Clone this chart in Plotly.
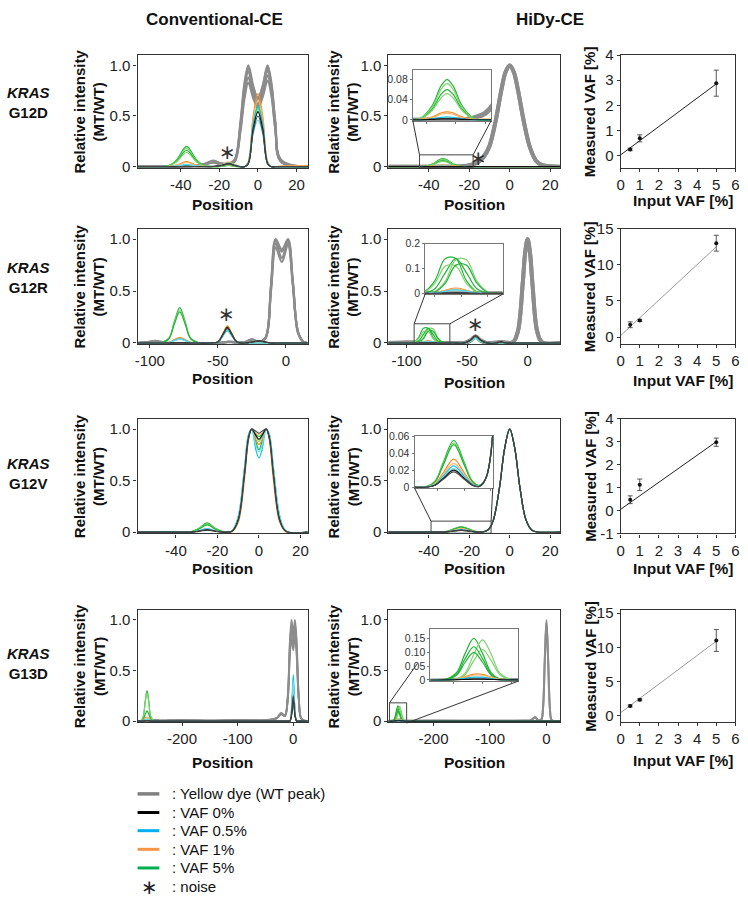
import plotly.graph_objects as go

W, H = 748, 900
FONT = "Liberation Sans, Arial, sans-serif"

# ---------------- data: Conventional-CE, KRAS G12D ----------------
CONV_G12D_POS = [-62, -46, -42, -37, -32, -28, -23, -19, -15, -12, -9, -7, -5, -2.5, 0, 2.5, 5, 7, 9, 12, 26]
CONV_G12D_GRAY = [
    [0, 0, 0, 0.005, 0.01, 0.025, 0.06, 0.03, 0.03, 0.07, 0.45, 0.82, 1.0, 0.8, 0.66, 0.8, 1.0, 0.82, 0.45, 0.07, 0],
    [0, 0, 0, 0.005, 0.01, 0.02, 0.05, 0.03, 0.025, 0.06, 0.41, 0.76, 0.94, 0.75, 0.62, 0.75, 0.95, 0.77, 0.41, 0.06, 0],
    [0, 0, 0, 0, 0.01, 0.02, 0.045, 0.025, 0.025, 0.06, 0.38, 0.71, 0.88, 0.71, 0.6, 0.72, 0.9, 0.73, 0.38, 0.05, 0],
    [0, 0, 0, 0, 0.01, 0.02, 0.05, 0.03, 0.03, 0.065, 0.43, 0.79, 0.97, 0.78, 0.68, 0.79, 0.98, 0.8, 0.43, 0.06, 0],
    [0, 0, 0, 0, 0.01, 0.02, 0.04, 0.02, 0.02, 0.05, 0.36, 0.67, 0.83, 0.68, 0.58, 0.69, 0.85, 0.7, 0.37, 0.05, 0],
]
CONV_G12D_GREEN = [
    [0, 0.013, 0.072, 0.2, 0.072, 0.013, 0, 0.005, 0.015, 0.005, 0, 0, 0.04, 0.42, 0.6, 0.42, 0.04, 0, 0, 0, 0],
    [0, 0.012, 0.065, 0.18, 0.065, 0.012, 0, 0.005, 0.015, 0.005, 0, 0, 0.04, 0.4, 0.57, 0.4, 0.04, 0, 0, 0, 0],
    [0, 0.011, 0.058, 0.16, 0.058, 0.011, 0, 0.005, 0.012, 0.004, 0, 0, 0.03, 0.38, 0.55, 0.38, 0.03, 0, 0, 0, 0],
    [0, 0.009, 0.05, 0.14, 0.05, 0.009, 0, 0.004, 0.012, 0.004, 0, 0, 0.03, 0.4, 0.58, 0.4, 0.03, 0, 0, 0, 0],
]
CONV_G12D_ORANGE = [
    [0, 0.003, 0.018, 0.05, 0.018, 0.004, 0.005, 0.02, 0.045, 0.02, 0, 0, 0.05, 0.5, 0.72, 0.5, 0.05, 0, 0, 0.005, 0.01],
    [0, 0.003, 0.015, 0.042, 0.015, 0.003, 0.004, 0.018, 0.04, 0.018, 0, 0, 0.04, 0.46, 0.66, 0.46, 0.04, 0, 0, 0.004, 0.008],
]
CONV_G12D_CYAN = [
    [0, 0.001, 0.007, 0.02, 0.007, 0.002, 0.003, 0.015, 0.035, 0.015, 0, 0, 0.04, 0.42, 0.6, 0.42, 0.04, 0, 0, 0, 0],
    [0, 0.001, 0.006, 0.018, 0.006, 0.002, 0.003, 0.012, 0.03, 0.012, 0, 0, 0.03, 0.32, 0.46, 0.32, 0.03, 0, 0, 0, 0],
]
CONV_G12D_BLACK = [
    [0, 0, 0.001, 0.004, 0.001, 0, 0.002, 0.012, 0.03, 0.012, 0, 0, 0.03, 0.37, 0.54, 0.37, 0.03, 0, 0, 0, 0],
    [0, 0, 0, 0.003, 0, 0, 0.002, 0.01, 0.028, 0.01, 0, 0, 0.03, 0.34, 0.5, 0.34, 0.03, 0, 0, 0, 0],
]

# ---------------- data: HiDy-CE, KRAS G12D ----------------
HIDY_G12D_POS = [-60, -46, -42, -38, -35, -33, -31, -28, -24, -20, -16, -13, -10, -7, -4, -2, 0, 2, 4, 7, 10, 13, 16, 25]
HIDY_G12D_GRAY = [
    [0, 0, 0, 0, 0, 0, 0, 0.001, 0.004, 0.012, 0.04, 0.09, 0.2, 0.445, 0.768, 0.936, 1.0, 0.936, 0.768, 0.445, 0.19, 0.06, 0.015, 0],
    [0, 0, 0, 0, 0, 0, 0, 0.001, 0.005, 0.015, 0.045, 0.1, 0.21, 0.45, 0.77, 0.935, 0.995, 0.93, 0.76, 0.44, 0.19, 0.06, 0.015, 0],
]
HIDY_G12D_GREEN = [
    [0, 0, 0.003, 0.029, 0.068, 0.08, 0.068, 0.029, 0.003, 0, 0, 0, 0, 0, 0, 0, 0, 0, 0, 0, 0, 0, 0, 0],
    [0, 0, 0.003, 0.026, 0.061, 0.072, 0.061, 0.026, 0.003, 0, 0, 0, 0, 0, 0, 0, 0, 0, 0, 0, 0, 0, 0, 0],
    [0, 0, 0.002, 0.022, 0.051, 0.06, 0.051, 0.022, 0.002, 0, 0, 0, 0, 0, 0, 0, 0, 0, 0, 0, 0, 0, 0, 0],
    [0, 0, 0.002, 0.019, 0.044, 0.052, 0.044, 0.019, 0.002, 0, 0, 0, 0, 0, 0, 0, 0, 0, 0, 0, 0, 0, 0, 0],
]
HIDY_G12D_ORANGE = [
    [0, 0, 0.001, 0.006, 0.014, 0.016, 0.014, 0.006, 0.001, 0.001, 0.002, 0.002, 0, 0, 0, 0, 0, 0, 0, 0, 0, 0, 0, 0],
    [0, 0, 0.001, 0.005, 0.011, 0.013, 0.011, 0.005, 0.001, 0.001, 0.001, 0.001, 0, 0, 0, 0, 0, 0, 0, 0, 0, 0, 0, 0],
]
HIDY_G12D_CYAN = [
    [0, 0, 0, 0.002, 0.005, 0.006, 0.005, 0.002, 0, 0, 0.001, 0.001, 0, 0, 0, 0, 0, 0, 0, 0, 0, 0, 0, 0],
]
HIDY_G12D_BLACK = [
    [0, 0, 0, 0.001, 0.002, 0.002, 0.002, 0.001, 0, 0, 0, 0, 0, 0, 0, 0, 0, 0, 0, 0, 0, 0, 0, 0],
]

# ---------------- data: Conventional-CE, KRAS G12R ----------------
CONV_G12R_POS = [-109, -100, -96, -92, -86, -82, -78, -74, -70, -64, -56, -50, -46, -43, -40, -36, -30, -25, -20, -15, -11, -7.5, -3, 1.5, 5, 9, 13, 16]
CONV_G12R_GRAY = [
    [0, 0.01, 0.02, 0.01, 0, 0, 0, 0, 0, 0, 0, 0, 0.005, 0.01, 0.01, 0.005, 0.01, 0.035, 0.01, 0.05, 0.55, 1.0, 0.88, 1.0, 0.6, 0.1, 0.01, 0],
    [0, 0.01, 0.018, 0.01, 0, 0, 0, 0, 0, 0, 0, 0, 0.005, 0.01, 0.01, 0.005, 0.01, 0.03, 0.01, 0.05, 0.52, 0.96, 0.82, 0.97, 0.58, 0.1, 0.01, 0],
    [0, 0.008, 0.015, 0.008, 0, 0, 0, 0, 0, 0, 0, 0, 0.004, 0.008, 0.008, 0.004, 0.008, 0.03, 0.01, 0.045, 0.5, 0.92, 0.78, 0.95, 0.57, 0.09, 0.01, 0],
    [0, 0.01, 0.02, 0.01, 0, 0, 0, 0, 0, 0, 0, 0, 0.005, 0.01, 0.01, 0.005, 0.01, 0.032, 0.01, 0.05, 0.54, 0.99, 0.9, 0.99, 0.6, 0.1, 0.01, 0],
]
CONV_G12R_GREEN = [
    [0, 0, 0, 0.001, 0.046, 0.204, 0.34, 0.204, 0.046, 0.001, 0, 0.011, 0.096, 0.16, 0.096, 0.011, 0, 0, 0, 0, 0, 0, 0, 0, 0, 0, 0, 0],
    [0, 0, 0, 0.001, 0.043, 0.192, 0.32, 0.192, 0.043, 0.001, 0, 0.01, 0.09, 0.15, 0.09, 0.01, 0, 0, 0, 0, 0, 0, 0, 0, 0, 0, 0, 0],
    [0, 0, 0, 0.001, 0.041, 0.18, 0.3, 0.18, 0.041, 0.001, 0, 0.009, 0.084, 0.14, 0.084, 0.009, 0, 0, 0, 0, 0, 0, 0, 0, 0, 0, 0, 0],
]
CONV_G12R_ORANGE = [
    [0, 0, 0, 0, 0.007, 0.033, 0.055, 0.033, 0.007, 0, 0, 0.011, 0.099, 0.165, 0.099, 0.011, 0, 0, 0, 0, 0, 0, 0, 0, 0, 0, 0, 0],
    [0, 0, 0, 0, 0.006, 0.027, 0.045, 0.027, 0.006, 0, 0, 0.01, 0.09, 0.15, 0.09, 0.01, 0, 0, 0, 0, 0, 0, 0, 0, 0, 0, 0, 0],
]
CONV_G12R_CYAN = [
    [0, 0, 0, 0, 0.005, 0.024, 0.04, 0.024, 0.005, 0, 0, 0.008, 0.072, 0.12, 0.072, 0.008, 0, 0, 0, 0, 0, 0, 0, 0, 0, 0, 0, 0],
    [0, 0, 0, 0, 0.005, 0.021, 0.035, 0.021, 0.005, 0, 0, 0.009, 0.078, 0.13, 0.078, 0.009, 0, 0, 0, 0, 0, 0, 0, 0, 0, 0, 0, 0],
]
CONV_G12R_BLACK = [
    [0, 0, 0, 0, 0, 0.002, 0.003, 0.002, 0, 0, 0, 0.01, 0.09, 0.15, 0.09, 0.01, 0, 0.01, 0.02, 0.01, 0, 0, 0, 0, 0, 0, 0, 0],
    [0, 0, 0, 0, 0, 0.001, 0.002, 0.001, 0, 0, 0, 0.009, 0.084, 0.14, 0.084, 0.009, 0, 0.008, 0.018, 0.008, 0, 0, 0, 0, 0, 0, 0, 0],
]

# ---------------- data: HiDy-CE, KRAS G12R ----------------
HIDY_G12R_POS = [-115, -100, -94, -90, -86, -82, -78, -74, -70, -62, -52, -47, -43, -39, -34, -26, -22, -18, -12, -8, -4, -2, 0, 2, 4, 8, 12, 27]
HIDY_G12R_GRAY = [
    [0, 0.005, 0.004, 0, 0, 0, 0, 0, 0, 0, 0.001, 0.027, 0.065, 0.027, 0.001, 0.003, 0.01, 0.003, 0.007, 0.11, 0.575, 0.87, 1.0, 0.87, 0.575, 0.11, 0.007, 0],
    [0, 0.004, 0.004, 0, 0, 0, 0, 0, 0, 0, 0.001, 0.025, 0.06, 0.025, 0.001, 0.003, 0.009, 0.003, 0.008, 0.115, 0.58, 0.875, 1.0, 0.865, 0.57, 0.105, 0.006, 0],
]
HIDY_G12R_GREEN = [
    [0, 0, 0.007, 0.052, 0.141, 0.141, 0.052, 0.007, 0, 0, 0.001, 0.02, 0.05, 0.02, 0.001, 0, 0, 0, 0, 0, 0, 0, 0, 0, 0, 0, 0, 0],
    [0, 0, 0, 0.007, 0.05, 0.136, 0.136, 0.05, 0.007, 0, 0.001, 0.018, 0.045, 0.018, 0.001, 0, 0, 0, 0, 0, 0, 0, 0, 0, 0, 0, 0, 0],
    [0, 0, 0.002, 0.019, 0.084, 0.14, 0.084, 0.019, 0.002, 0, 0.001, 0.02, 0.048, 0.02, 0.001, 0, 0, 0, 0, 0, 0, 0, 0, 0, 0, 0, 0, 0],
    [0, 0, 0.006, 0.041, 0.11, 0.11, 0.041, 0.006, 0, 0, 0.001, 0.018, 0.044, 0.018, 0.001, 0, 0, 0, 0, 0, 0, 0, 0, 0, 0, 0, 0, 0],
    [0, 0, 0, 0.006, 0.042, 0.114, 0.114, 0.042, 0.006, 0, 0.001, 0.02, 0.05, 0.02, 0.001, 0, 0, 0, 0, 0, 0, 0, 0, 0, 0, 0, 0, 0],
]
HIDY_G12R_ORANGE = [
    [0, 0, 0, 0.003, 0.013, 0.022, 0.013, 0.003, 0, 0, 0.001, 0.028, 0.068, 0.028, 0.001, 0, 0.005, 0, 0, 0, 0, 0, 0, 0, 0, 0, 0, 0],
    [0, 0, 0, 0.002, 0.011, 0.019, 0.011, 0.002, 0, 0, 0.001, 0.026, 0.064, 0.026, 0.001, 0, 0.004, 0, 0, 0, 0, 0, 0, 0, 0, 0, 0, 0],
]
HIDY_G12R_CYAN = [
    [0, 0, 0, 0.002, 0.009, 0.015, 0.009, 0.002, 0, 0, 0.001, 0.02, 0.05, 0.02, 0.001, 0, 0.004, 0, 0, 0, 0, 0, 0, 0, 0, 0, 0, 0],
    [0, 0, 0, 0.002, 0.008, 0.013, 0.008, 0.002, 0, 0, 0.001, 0.018, 0.045, 0.018, 0.001, 0, 0.003, 0, 0, 0, 0, 0, 0, 0, 0, 0, 0, 0],
]
HIDY_G12R_BLACK = [
    [0, 0, 0, 0, 0.001, 0.002, 0.001, 0, 0, 0, 0.001, 0.029, 0.07, 0.029, 0.001, 0, 0.01, 0, 0, 0, 0, 0, 0, 0, 0, 0, 0, 0],
    [0, 0, 0, 0, 0.001, 0.001, 0.001, 0, 0, 0, 0.001, 0.027, 0.066, 0.027, 0.001, 0, 0.008, 0, 0, 0, 0, 0, 0, 0, 0, 0, 0, 0],
]

# ---------------- data: Conventional-CE, KRAS G12V ----------------
CONV_G12V_POS = [-58.5, -40, -33, -29, -25, -21, -17, -13, -10, -7, -5, -3.5, -1.5, 0, 1.5, 3.5, 5, 7, 10, 13, 23.5]
CONV_G12V_GREEN = [
    [0, 0, 0.003, 0.037, 0.09, 0.037, 0.003, 0.01, 0.13, 0.58, 0.93, 1.0, 0.88, 0.8, 0.88, 1.0, 0.93, 0.58, 0.13, 0.01, 0],
    [0, 0, 0.002, 0.033, 0.08, 0.033, 0.002, 0.01, 0.12, 0.56, 0.92, 1.0, 0.93, 0.88, 0.93, 1.0, 0.92, 0.56, 0.12, 0.01, 0],
    [0, 0, 0.002, 0.029, 0.07, 0.029, 0.002, 0.01, 0.14, 0.6, 0.94, 1.0, 0.95, 0.93, 0.95, 1.0, 0.94, 0.6, 0.14, 0.01, 0],
]
CONV_G12V_ORANGE = [
    [0, -0.005, 0.001, 0.012, 0.03, 0.012, 0.001, 0.005, 0.1, 0.52, 0.9, 1.0, 0.9, 0.85, 0.9, 1.0, 0.9, 0.5, 0.1, 0.005, 0],
    [0, -0.004, 0.001, 0.01, 0.025, 0.01, 0.001, 0.005, 0.09, 0.5, 0.9, 1.0, 0.96, 0.95, 0.96, 1.0, 0.9, 0.52, 0.1, 0.005, 0],
]
CONV_G12V_CYAN = [
    [0, 0, 0.001, 0.014, 0.035, 0.014, 0.001, 0.012, 0.15, 0.62, 0.95, 1.0, 0.8, 0.72, 0.8, 1.0, 0.95, 0.62, 0.16, 0.015, 0],
    [0, 0, 0.001, 0.012, 0.03, 0.012, 0.001, 0.012, 0.15, 0.6, 0.94, 1.0, 0.84, 0.78, 0.84, 1.0, 0.95, 0.63, 0.16, 0.015, 0],
]
CONV_G12V_BLACK = [
    [0, 0, 0.001, 0.008, 0.02, 0.008, 0.001, 0.008, 0.12, 0.56, 0.92, 1.0, 0.94, 0.9, 0.94, 1.0, 0.92, 0.56, 0.12, 0.008, 0],
    [0, 0, 0.001, 0.01, 0.025, 0.01, 0.001, 0.008, 0.11, 0.55, 0.91, 1.0, 0.98, 0.96, 0.98, 1.0, 0.91, 0.55, 0.11, 0.008, 0],
]

# ---------------- data: HiDy-CE, KRAS G12V ----------------
HIDY_G12V_POS = [-60, -40, -34, -31, -28, -24, -20, -17, -14.5, -13, -11.5, -10, -8, -5, -2.5, 0, 2.5, 5, 8, 11, 14, 25]
HIDY_G12V_GREEN = [
    [0, 0, 0.001, 0.0074, 0.029, 0.055, 0.029, 0.0074, 0.002, 0.0044, 0.013, 0.037, 0.122, 0.44, 0.814, 1.0, 0.814, 0.44, 0.122, 0.019, 0.0015, 0],
    [0, 0, 0.001, 0.007, 0.027, 0.052, 0.027, 0.007, 0.002, 0.0044, 0.013, 0.038, 0.124, 0.445, 0.816, 1.0, 0.812, 0.436, 0.12, 0.018, 0.0015, 0],
    [0, 0, 0.001, 0.0068, 0.026, 0.05, 0.026, 0.0068, 0.002, 0.0043, 0.013, 0.036, 0.12, 0.436, 0.81, 1.0, 0.815, 0.442, 0.123, 0.019, 0.0015, 0],
]
HIDY_G12V_ORANGE = [
    [0, 0, 0.0006, 0.0045, 0.017, 0.033, 0.017, 0.0045, 0.0014, 0.0042, 0.013, 0.037, 0.122, 0.44, 0.814, 1.0, 0.814, 0.44, 0.122, 0.019, 0.0015, 0],
    [0, 0, 0.0005, 0.0038, 0.015, 0.028, 0.015, 0.0038, 0.0012, 0.0042, 0.014, 0.039, 0.126, 0.446, 0.818, 1.0, 0.81, 0.436, 0.12, 0.018, 0.0015, 0],
]
HIDY_G12V_CYAN = [
    [0, 0, 0.0004, 0.0034, 0.013, 0.025, 0.013, 0.0034, 0.001, 0.0042, 0.013, 0.037, 0.122, 0.44, 0.814, 1.0, 0.814, 0.44, 0.122, 0.019, 0.0015, 0],
    [0, 0, 0.0004, 0.003, 0.0115, 0.022, 0.0115, 0.003, 0.001, 0.0041, 0.013, 0.036, 0.12, 0.438, 0.812, 1.0, 0.816, 0.442, 0.124, 0.019, 0.0015, 0],
]
HIDY_G12V_BLACK = [
    [0, 0, 0.0003, 0.0027, 0.0104, 0.02, 0.0104, 0.0027, 0.0008, 0.0041, 0.013, 0.037, 0.122, 0.44, 0.814, 1.0, 0.814, 0.44, 0.122, 0.019, 0.0015, 0],
    [0, 0, 0.0003, 0.0024, 0.0094, 0.018, 0.0094, 0.0024, 0.0007, 0.004, 0.013, 0.037, 0.122, 0.44, 0.814, 1.0, 0.814, 0.44, 0.122, 0.019, 0.0015, 0],
]

# ---------------- data: Conventional-CE, KRAS G13D ----------------
CONV_G13D_POS = [-280, -274, -270, -266, -263, -260, -256, -250, -240, -200, -150, -100, -50, -30, -22, -15, -10, -6, -3, 0, 3, 6, 10, 15, 26]
CONV_G13D_GRAY = [
    [0, 0, 0, 0, 0.005, 0.005, 0.005, 0.01, 0.005, 0.01, 0.005, 0.01, 0.01, 0.03, 0.08, 0.06, 0.25, 0.8, 1.0, 0.85, 1.0, 0.8, 0.25, 0.02, 0],
    [0, 0, 0, 0, 0.005, 0.005, 0.005, 0.01, 0.005, 0.01, 0.005, 0.01, 0.01, 0.03, 0.07, 0.055, 0.23, 0.76, 0.95, 0.8, 0.96, 0.76, 0.23, 0.02, 0],
    [0, 0, 0, 0, 0.004, 0.004, 0.005, 0.008, 0.005, 0.008, 0.005, 0.008, 0.008, 0.025, 0.07, 0.05, 0.21, 0.7, 0.88, 0.75, 0.9, 0.7, 0.21, 0.02, 0],
    [0, 0, 0, 0, 0.004, 0.004, 0.004, 0.008, 0.004, 0.008, 0.004, 0.008, 0.008, 0.025, 0.065, 0.05, 0.2, 0.66, 0.82, 0.7, 0.84, 0.66, 0.2, 0.02, 0],
]
CONV_G13D_GREEN = [
    [0, 0.002, 0.041, 0.207, 0.3, 0.207, 0.041, 0, 0, 0, 0, 0, 0, 0, 0, 0, 0, 0, 0.1, 0.35, 0.1, 0, 0, 0, 0],
    [0, 0.002, 0.038, 0.193, 0.28, 0.193, 0.038, 0, 0, 0, 0, 0, 0, 0, 0, 0, 0, 0, 0.09, 0.3, 0.09, 0, 0, 0, 0],
    [0, 0.001, 0.014, 0.069, 0.1, 0.069, 0.014, 0, 0, 0, 0, 0, 0, 0, 0, 0, 0, 0, 0.07, 0.25, 0.07, 0, 0, 0, 0],
]
CONV_G13D_ORANGE = [
    [0, 0, 0.005, 0.028, 0.04, 0.028, 0.005, 0, 0, 0, 0, 0, 0, 0, 0, 0, 0, 0, 0.11, 0.38, 0.11, 0, 0, 0, 0],
    [0, 0, 0.005, 0.024, 0.035, 0.024, 0.005, 0, 0, 0, 0, 0, 0, 0, 0, 0, 0, 0, 0.09, 0.3, 0.09, 0, 0, 0, 0],
]
CONV_G13D_CYAN = [
    [0, 0, 0.003, 0.014, 0.02, 0.014, 0.003, 0, 0, 0, 0, 0, 0, 0, 0, 0, 0, 0, 0.13, 0.46, 0.13, 0, 0, 0, 0],
    [0, 0, 0.002, 0.012, 0.018, 0.012, 0.002, 0, 0, 0, 0, 0, 0, 0, 0, 0, 0, 0, 0.11, 0.4, 0.11, 0, 0, 0, 0],
]
CONV_G13D_BLACK = [
    [0, 0, 0, 0.003, 0.005, 0.003, 0, 0, 0, 0, 0, 0, 0, 0, 0, 0, 0, 0, 0.06, 0.22, 0.06, 0, 0, 0, 0],
    [0, 0, 0, 0.003, 0.004, 0.003, 0, 0, 0, 0, 0, 0, 0, 0, 0, 0, 0, 0, 0.07, 0.25, 0.07, 0, 0, 0, 0],
]

# ---------------- data: HiDy-CE, KRAS G13D ----------------
HIDY_G13D_POS = [-280, -273, -269, -266, -263, -260, -257, -254, -250, -240, -200, -100, -40, -28, -20, -14, -9, -6, -3, 0, 3, 6, 9, 14, 24.5]
HIDY_G13D_GRAY = [
    [0, 0.002, 0.004, 0.005, 0.005, 0.005, 0.004, 0.003, 0.003, 0.003, 0.005, 0.003, 0.005, 0.008, 0.04, 0.006, 0.015, 0.135, 0.6, 1.0, 0.6, 0.135, 0.011, 0, 0],
    [0, 0.002, 0.003, 0.004, 0.005, 0.004, 0.004, 0.003, 0.002, 0.003, 0.004, 0.003, 0.004, 0.007, 0.032, 0.005, 0.014, 0.13, 0.59, 0.98, 0.6, 0.14, 0.012, 0, 0],
]
HIDY_G13D_GREEN = [
    [0, 0.001, 0.026, 0.096, 0.15, 0.096, 0.026, 0.003, 0, 0, 0, 0, 0, 0, 0, 0, 0, 0, 0, 0, 0, 0, 0, 0, 0],
    [0, 0, 0.003, 0.025, 0.093, 0.145, 0.093, 0.025, 0.001, 0, 0, 0, 0, 0, 0, 0, 0, 0, 0, 0, 0, 0, 0, 0, 0],
    [0, 0.001, 0.02, 0.077, 0.12, 0.077, 0.02, 0.002, 0, 0, 0, 0, 0, 0, 0, 0, 0, 0, 0, 0, 0, 0, 0, 0, 0],
    [0, 0, 0.002, 0.019, 0.07, 0.11, 0.07, 0.019, 0.001, 0, 0, 0, 0, 0, 0, 0, 0, 0, 0, 0, 0, 0, 0, 0, 0],
    [0, 0.001, 0.017, 0.064, 0.1, 0.064, 0.017, 0.002, 0, 0, 0, 0, 0, 0, 0, 0, 0, 0, 0, 0, 0, 0, 0, 0, 0],
]
HIDY_G13D_ORANGE = [
    [0, 0, 0.004, 0.012, 0.021, 0.02, 0.01, 0.002, 0, 0, 0, 0, 0, 0, 0, 0, 0, 0, 0, 0, 0, 0, 0, 0, 0],
    [0, 0, 0.003, 0.01, 0.017, 0.017, 0.009, 0.002, 0, 0, 0, 0, 0, 0, 0, 0, 0, 0, 0, 0, 0, 0, 0, 0, 0],
]
HIDY_G13D_CYAN = [
    [0, 0, 0.002, 0.006, 0.01, 0.01, 0.005, 0.001, 0, 0, 0, 0, 0, 0, 0, 0, 0, 0, 0, 0, 0, 0, 0, 0, 0],
]
HIDY_G13D_BLACK = [
    [0, 0, 0.001, 0.002, 0.003, 0.003, 0.002, 0.001, 0, 0, 0, 0, 0, 0, 0, 0, 0, 0, 0, 0, 0, 0, 0, 0, 0],
]

# ---------------- data: measured vs input VAF ----------------
VAF_INPUT = [0.5, 1, 5]
FIT_X = [0, 5]
VAF_G12D_MEAN = [0.24, 0.68, 2.88]
VAF_G12D_SD = [0.05, 0.14, 0.52]
FIT_G12D = [0.02, 2.85]
VAF_G12R_MEAN = [1.7, 2.3, 13.0]
VAF_G12R_SD = [0.4, 0.15, 1.1]
FIT_G12R = [0.2, 12.5]
VAF_G12V_MEAN = [0.47, 1.12, 2.98]
VAF_G12V_SD = [0.17, 0.25, 0.18]
FIT_G12V = [0.05, 3.0]
VAF_G13D_MEAN = [1.4, 2.3, 11.0]
VAF_G13D_SD = [0.15, 0.15, 1.6]
FIT_G13D = [0.4, 10.9]

ROW_NAMES = ["G12D", "G12R", "G12V", "G13D"]
LEGEND_LABELS = [": Yellow dye (WT peak)", ": VAF 0%", ": VAF 0.5%", ": VAF 1%", ": VAF 5%"]

# ---------------- styling ----------------
C_GRAY = "rgb(140,140,140)"
C_GREEN = ["rgb(35,180,55)", "rgb(125,212,110)"]
C_ORANGE = ["rgb(245,140,35)", "rgb(250,182,115)"]
C_CYAN = ["rgb(20,195,228)", "rgb(110,220,240)"]
C_BLACK = ["rgb(15,15,15)", "rgb(70,70,70)"]
LEGEND_COLORS = ["rgb(128,128,128)", "rgb(0,0,0)", "rgb(0,176,240)", "rgb(247,150,70)", "rgb(0,176,80)"]
AX = "#333333"
TICK_SIZE = 15

COL_CONV = (135, 307)
COL_HIDY = (388.5, 562.3)
COL_VAF = (623.3, 739.3)
ROWS = [(47, 162), (224, 341.7), (417.7, 534.5), (612.4, 727)]
YR_CURVE = [-0.012, 1.1]


def xdom(c):
    return [c[0] / W, c[1] / W]


def ydom(r):
    return [1 - r[1] / H, 1 - r[0] / H]


def px_to_paper(px, py):
    return px / W, 1 - py / H


def data_to_px(xv, yv, xr, yr, col, row):
    px = col[0] + (xv - xr[0]) / (xr[1] - xr[0]) * (col[1] - col[0])
    py = row[1] - (yv - yr[0]) / (yr[1] - yr[0]) * (row[1] - row[0])
    return px, py


fig = go.Figure()
layout = {}


def base_axis(**kw):
    d = dict(showline=True, linecolor=AX, linewidth=1.2, mirror=True, ticks="outside",
             ticklen=3, tickwidth=1.1, tickcolor=AX, showgrid=False, zeroline=False,
             tickfont=dict(family=FONT, size=TICK_SIZE, color="#222"), fixedrange=True)
    d.update(kw)
    return d


def add_axes(n, col, row, xr, yr, xtv, xtt, ytv, ytt, small=False):
    sfx = "" if n == 1 else str(n)
    xa = base_axis(domain=xdom(col), range=xr, anchor="y" + sfx, tickvals=xtv, ticktext=xtt)
    ya = base_axis(domain=ydom(row), range=yr, anchor="x" + sfx, tickvals=ytv, ticktext=ytt)
    if small:
        for a in (xa, ya):
            a.update(linecolor="#777", tickcolor="#777", linewidth=1, ticklen=2,
                     tickfont=dict(family=FONT, size=10.5, color="#333"))
        xa.update(showticklabels=False)
    layout["xaxis" + sfx] = xa
    layout["yaxis" + sfx] = ya


def add_curves(n, pos, gray, green, orange, cyan, black, gw):
    sfx = "" if n == 1 else str(n)
    groups = [(gray, [C_GRAY, C_GRAY], gw), (green, C_GREEN, 1.2), (orange, C_ORANGE, 1.2),
              (cyan, C_CYAN, 1.2), (black, C_BLACK, 1.2)]
    for reps, cols, w in groups:
        for i, ys in enumerate(reps):
            fig.add_trace(go.Scatter(x=pos, y=ys, mode="lines", xaxis="x" + sfx, yaxis="y" + sfx,
                                     line=dict(color=cols[i % 2], width=w, shape="spline", smoothing=1.0),
                                     hoverinfo="skip", showlegend=False))


def add_vaf(n, mean, sd, fit, fitcolor):
    sfx = str(n)
    fig.add_trace(go.Scatter(x=FIT_X, y=fit, mode="lines", xaxis="x" + sfx, yaxis="y" + sfx,
                             line=dict(color=fitcolor, width=1), hoverinfo="skip", showlegend=False))
    fig.add_trace(go.Scatter(x=VAF_INPUT, y=mean, mode="markers", xaxis="x" + sfx, yaxis="y" + sfx,
                             marker=dict(color="#111", size=4),
                             error_y=dict(type="data", array=sd, color="#444", thickness=0.9, width=2.5),
                             hoverinfo="skip", showlegend=False))


YT = [0, 0.5, 1.0]
YTT = ["0", "0.5", "1.0"]
VX = [0, 1, 2, 3, 4, 5, 6]
VXT = [str(v) for v in VX]

panels = [
    (1, COL_CONV, 0, [-62.4, 25.8], [-40, -20, 0, 20], CONV_G12D_POS, CONV_G12D_GRAY, CONV_G12D_GREEN, CONV_G12D_ORANGE, CONV_G12D_CYAN, CONV_G12D_BLACK, 2.2),
    (2, COL_HIDY, 0, [-60, 25], [-40, -20, 0, 20], HIDY_G12D_POS, HIDY_G12D_GRAY, HIDY_G12D_GREEN, HIDY_G12D_ORANGE, HIDY_G12D_CYAN, HIDY_G12D_BLACK, 4),
    (4, COL_CONV, 1, [-109, 16], [-100, -50, 0], CONV_G12R_POS, CONV_G12R_GRAY, CONV_G12R_GREEN, CONV_G12R_ORANGE, CONV_G12R_CYAN, CONV_G12R_BLACK, 2.2),
    (5, COL_HIDY, 1, [-115, 27], [-100, -50, 0], HIDY_G12R_POS, HIDY_G12R_GRAY, HIDY_G12R_GREEN, HIDY_G12R_ORANGE, HIDY_G12R_CYAN, HIDY_G12R_BLACK, 4),
    (7, COL_CONV, 2, [-58.5, 23.5], [-40, -20, 0, 20], CONV_G12V_POS, [], CONV_G12V_GREEN, CONV_G12V_ORANGE, CONV_G12V_CYAN, CONV_G12V_BLACK, 2),
    (8, COL_HIDY, 2, [-60, 25], [-40, -20, 0, 20], HIDY_G12V_POS, [], HIDY_G12V_GREEN, HIDY_G12V_ORANGE, HIDY_G12V_CYAN, HIDY_G12V_BLACK, 2),
    (10, COL_CONV, 3, [-280, 26], [-200, -100, 0], CONV_G13D_POS, CONV_G13D_GRAY, CONV_G13D_GREEN, CONV_G13D_ORANGE, CONV_G13D_CYAN, CONV_G13D_BLACK, 1.8),
    (11, COL_HIDY, 3, [-280, 24.5], [-200, -100, 0], HIDY_G13D_POS, HIDY_G13D_GRAY, HIDY_G13D_GREEN, HIDY_G13D_ORANGE, HIDY_G13D_CYAN, HIDY_G13D_BLACK, 2),
]
PANEL_RANGES = {}
for (n, col, ri, xr, xt, pos, gray, green, orange, cyan, black, gw) in panels:
    add_axes(n, col, ROWS[ri], xr, YR_CURVE, xt, [str(v) for v in xt], YT, YTT)
    add_curves(n, pos, gray, green, orange, cyan, black, gw)
    PANEL_RANGES[n] = (xr, YR_CURVE, col, ROWS[ri])

vaf = [
    (3, 0, [-0.5, 4], [0, 1, 2, 3, 4], VAF_G12D_MEAN, VAF_G12D_SD, FIT_G12D, "#222"),
    (6, 1, [-1, 15], [0, 5, 10, 15], VAF_G12R_MEAN, VAF_G12R_SD, FIT_G12R, "#999"),
    (9, 2, [-1, 4], [-1, 0, 1, 2, 3, 4], VAF_G12V_MEAN, VAF_G12V_SD, FIT_G12V, "#222"),
    (12, 3, [-1, 15.5], [0, 5, 10, 15], VAF_G13D_MEAN, VAF_G13D_SD, FIT_G13D, "#999"),
]
for (n, ri, yr, yt, mean, sd, fit, fc) in vaf:
    add_axes(n, COL_VAF, ROWS[ri], [0, 6], yr, VX, VXT, yt, [str(v) for v in yt])
    add_vaf(n, mean, sd, fit, fc)

insets = [
    (13, 2, (413.3, 492.3), (61.7, 114), [-44.6, -18.1], [-0.002, 0.1], [0, 0.04, 0.08], ["0", "0.04", "0.08"], [-0.01, 0.117]),
    (14, 5, (425.7, 504), (239.3, 290.7), [-93.7, -64.2], [-0.003, 0.2], [0, 0.1, 0.2], ["0", "0.1", "0.2"], [-0.01, 0.185]),
    (15, 8, (415, 494), (435, 488.3), [-38.9, -9.2], [-0.001, 0.0605], [0, 0.02, 0.04, 0.06], ["0", "0.02", "0.04", "0.06"], [-0.01, 0.107]),
    (16, 11, (431, 520), (631.7, 685), [-278, -247.6], [-0.004, 0.185], [0, 0.05, 0.1, 0.15], ["0", "0.05", "0.10", "0.15"], [-0.02, 0.18]),
]
shapes = []
parent_data = {p[0]: p for p in panels}
for (n, parent, icol, irow, ixr, iyr, iyt, iytt, ryr) in insets:
    add_axes(n, icol, irow, ixr, iyr, None, None, iyt, iytt, small=True)
    pp = parent_data[parent]
    add_curves(n, pp[5], pp[6], pp[7], pp[8], pp[9], pp[10], pp[11])
    psfx = str(parent)
    shapes.append(dict(type="rect", xref="x" + psfx, yref="y" + psfx, x0=ixr[0], x1=ixr[1],
                       y0=ryr[0], y1=ryr[1], line=dict(color="#444", width=1), layer="above"))
    xr, yr, col, row = PANEL_RANGES[parent]
    tl = data_to_px(ixr[0], ryr[1], xr, yr, col, row)
    tr = data_to_px(ixr[1], ryr[1], xr, yr, col, row)
    br = data_to_px(ixr[1], ryr[0], xr, yr, col, row)
    if n == 16:
        segs = [(tl, (icol[0] - 13, irow[1] - 18)), (br, (icol[1], irow[1]))]
    else:
        segs = [(tl, (icol[0], irow[1])), (tr, (icol[1], irow[1]))]
    for a, b in segs:
        x0, y0 = px_to_paper(*a)
        x1, y1 = px_to_paper(*b)
        shapes.append(dict(type="line", xref="paper", yref="paper", x0=x0, y0=y0, x1=x1, y1=y1,
                           line=dict(color="#333", width=1), layer="above"))

annotations = []


def ann(text, px, py, size=15, angle=0, xanchor="center", family=FONT, color="#111"):
    x, y = px_to_paper(px, py)
    annotations.append(dict(text=text, x=x, y=y, xref="paper", yref="paper", showarrow=False,
                            xanchor=xanchor, yanchor="middle", textangle=angle,
                            font=dict(family=family, size=size, color=color)))


ann("<b>Conventional-CE</b>", 213, 11, size=17)
ann("<b>HiDy-CE</b>", 552, 11, size=17)

row_label_y = [95, 274, 473, 667]
pos_y_conv = [199, 377, 570, 768]
pos_y_hidy = [199, 381, 570, 768]
inp_y = [195, 379, 570, 766]
for i, r in enumerate(ROWS):
    cy = (r[0] + r[1]) / 2
    ann("<b><i>KRAS</i></b><br><b>%s</b>" % ROW_NAMES[i], 25, row_label_y[i], size=15)
    ann("<b>Relative intensity</b><br><b>(MT/WT)</b>", 86, cy, size=15, angle=-90)
    ann("<b>Relative intensity</b><br><b>(MT/WT)</b>", 343, cy, size=15, angle=-90)
    ann("<b>Measured VAF [%]</b>", 592, cy, size=15, angle=-90)
    ann("<b>Position</b>", (COL_CONV[0] + COL_CONV[1]) / 2, pos_y_conv[i], size=15.5)
    ann("<b>Position</b>", (COL_HIDY[0] + COL_HIDY[1]) / 2, pos_y_hidy[i], size=15.5)
    ann("<b>Input VAF [%]</b>", 686, inp_y[i], size=15.5)

for (axn, xv, yv) in [(1, -16, 0.15), (2, -15.2, 0.09), (4, -44, 0.28), (5, -43, 0.185)]:
    sfx = "" if axn == 1 else str(axn)
    annotations.append(dict(text="\u2217", x=xv, y=yv, xref="x" + sfx, yref="y" + sfx, showarrow=False,
                            font=dict(family="DejaVu Sans", size=20, color="#333")))

leg_y = [800, 819, 837.5, 856.5, 875.5]
for i, (lab, c) in enumerate(zip(LEGEND_LABELS, LEGEND_COLORS)):
    x0, y0 = px_to_paper(135, leg_y[i])
    x1, _ = px_to_paper(157, leg_y[i])
    shapes.append(dict(type="line", xref="paper", yref="paper", x0=x0, x1=x1, y0=y0, y1=y0,
                       line=dict(color=c, width=3.5 if i == 0 else 3)))
    ann(lab, 168, leg_y[i], size=15, xanchor="left")
ann("\u2217", 147, 894.5, size=20, family="DejaVu Sans", color="#222")
ann(": noise", 168, 894.5, size=15, xanchor="left")

layout.update(dict(width=W, height=H, margin=dict(l=0, r=0, t=0, b=0), paper_bgcolor="white",
                   plot_bgcolor="white", showlegend=False, shapes=shapes, annotations=annotations))
fig.update_layout(**layout)
fig.write_html("out.html")
